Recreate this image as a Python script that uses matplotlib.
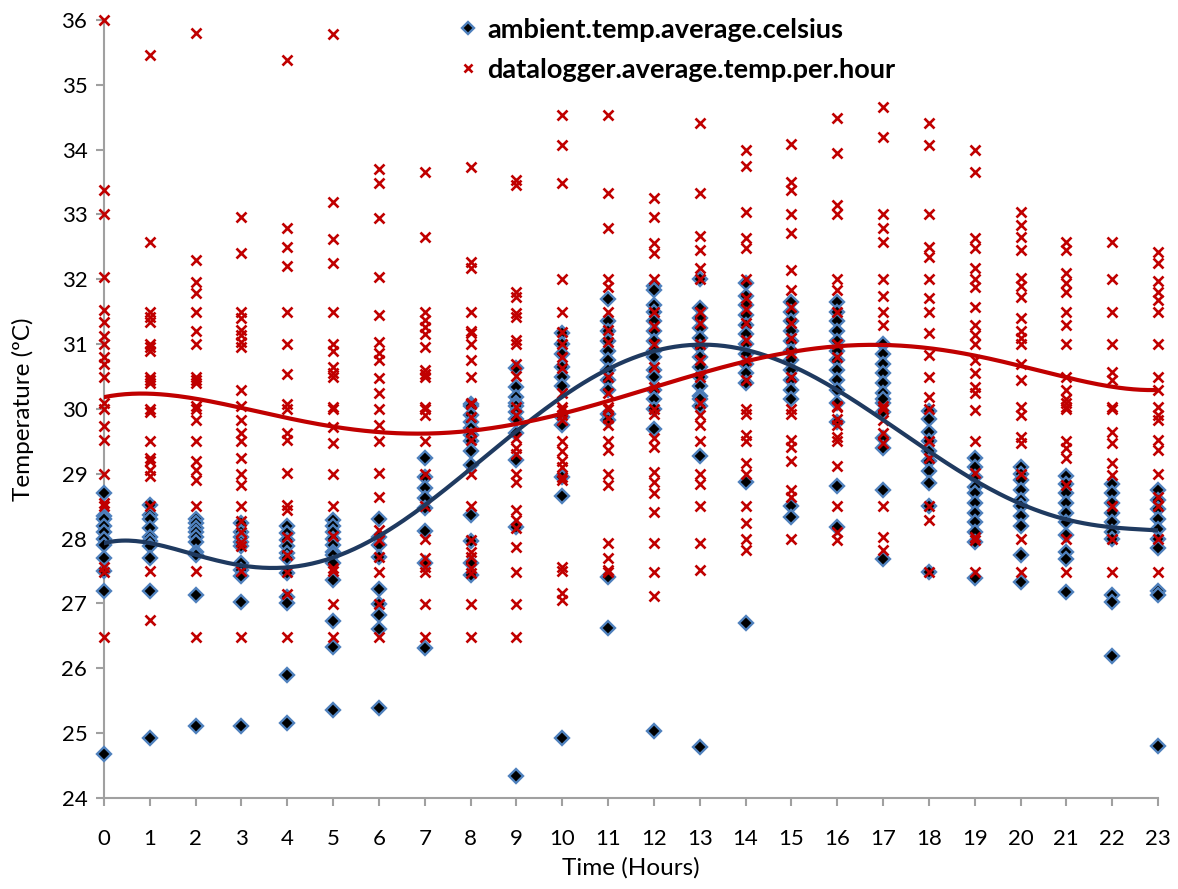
import numpy as np
import matplotlib.pyplot as plt

hours = list(range(24))

# ambient temperature readings, one list per hour of day
ambient = [
    [28.7, 28.35, 28.3, 28.2, 28.1, 28.0, 27.9, 27.7, 27.5, 27.2, 24.68],
    [28.52, 28.37, 28.3, 28.17, 28.03, 27.96, 27.88, 27.7, 27.2, 24.92],
    [28.3, 28.24, 28.17, 28.1, 28.02, 27.95, 27.8, 27.75, 27.13, 25.11],
    [28.24, 28.1, 28.03, 27.95, 27.88, 27.63, 27.52, 27.42, 27.02, 25.11],
    [28.2, 28.09, 27.98, 27.88, 27.78, 27.7, 27.47, 27.1, 27.0, 25.9, 25.15],
    [28.28, 28.2, 28.1, 28.0, 27.9, 27.8, 27.75, 27.62, 27.36, 26.73, 26.33, 25.35],
    [28.31, 28.03, 27.9, 27.72, 27.22, 26.99, 26.82, 26.6, 25.39],
    [29.25, 28.95, 28.78, 28.62, 28.47, 28.12, 27.63, 26.31],
    [30.07, 30.04, 29.9, 29.8, 29.7, 29.6, 29.5, 29.35, 29.13, 28.36, 27.96, 27.63, 27.44],
    [30.63, 30.34, 30.18, 30.09, 30.05, 29.95, 29.85, 29.63, 29.21, 28.18, 24.34],
    [31.17, 31.0, 30.85, 30.65, 30.5, 30.35, 29.88, 29.75, 28.95, 28.66, 24.92],
    [31.7, 31.35, 31.2, 31.05, 30.9, 30.75, 30.6, 30.45, 30.3, 29.93, 29.83, 27.41, 26.62],
    [31.9, 31.83, 31.6, 31.5, 31.35, 31.2, 31.05, 30.9, 30.8, 30.6, 30.5, 30.3, 30.15,
     30.0, 29.69, 25.04],
    [32.0, 31.55, 31.4, 31.25, 31.1, 30.95, 30.8, 30.65, 30.5, 30.35, 30.2, 30.05,
     30.15, 29.27, 24.79],
    [31.94, 31.75, 31.6, 31.45, 31.3, 31.15, 31.0, 30.85, 30.7, 30.55, 30.4, 28.88, 26.7],
    [31.65, 31.5, 31.35, 31.2, 31.05, 30.9, 30.75, 30.6, 30.45, 30.3, 30.15, 28.5, 28.34],
    [31.65, 31.5, 31.35, 31.2, 31.05, 30.9, 30.75, 30.6, 30.45, 30.3, 30.1, 29.8,
     28.81, 28.18],
    [31.0, 30.85, 30.7, 30.55, 30.4, 30.25, 30.1, 30.15, 29.95, 29.55, 29.4, 28.75, 27.68],
    [29.97, 29.85, 29.65, 29.5, 29.35, 29.2, 29.05, 28.86, 28.5, 27.48],
    [29.25, 29.1, 28.95, 28.8, 28.7, 28.55, 28.4, 28.25, 28.1, 27.95, 27.4],
    [29.1, 29.0, 28.9, 28.75, 28.6, 28.5, 28.35, 28.2, 27.75, 27.33],
    [28.97, 28.85, 28.7, 28.55, 28.4, 28.25, 28.05, 27.8, 27.68, 27.18],
    [28.85, 28.7, 28.55, 28.4, 28.25, 28.1, 28.0, 27.13, 27.03, 26.19],
    [28.75, 28.6, 28.45, 28.3, 28.15, 28.0, 27.85, 27.2, 27.13, 24.8],
]

# datalogger hourly averages, one list per hour of day
logger = [
    [36.0, 33.38, 33.0, 32.04, 31.53, 31.34, 31.12, 31.0, 30.8, 30.7, 30.5, 30.1,
     30.0, 29.74, 29.52, 29.0, 28.55, 28.5, 27.56, 27.48, 26.48],
    [35.46, 32.58, 31.5, 31.42, 31.34, 31.0, 30.95, 30.9, 30.5, 30.45, 30.4, 30.0,
     29.95, 29.5, 29.25, 29.2, 29.06, 28.96, 28.5, 27.5, 26.75],
    [35.8, 32.3, 31.96, 31.79, 31.5, 31.2, 31.0, 30.5, 30.45, 30.4, 30.05, 30.0,
     29.83, 29.5, 29.2, 29.06, 28.9, 28.5, 27.5, 26.48],
    [32.96, 32.4, 31.5, 31.4, 31.22, 31.14, 31.03, 30.95, 30.29, 30.04, 29.83, 29.63,
     29.5, 29.25, 29.0, 28.83, 28.5, 28.27, 28.1, 27.95, 27.88, 27.5, 26.48],
    [35.38, 32.79, 32.5, 32.2, 31.5, 31.0, 30.54, 30.07, 30.0, 29.63, 29.52, 29.01,
     28.52, 28.44, 28.02, 27.75, 27.48, 27.15, 26.48],
    [35.78, 33.2, 32.62, 32.25, 31.5, 31.0, 30.9, 30.65, 30.55, 30.5, 30.03, 30.0,
     29.72, 29.47, 29.0, 28.5, 28.04, 27.55, 27.5, 26.99, 26.48],
    [33.7, 33.49, 32.95, 32.03, 31.45, 31.03, 30.86, 30.76, 30.48, 30.25, 30.0, 29.75,
     29.5, 29.01, 28.65, 28.13, 27.98, 27.72, 27.48, 26.99, 26.48],
    [33.66, 32.65, 31.5, 31.37, 31.27, 31.16, 30.95, 30.6, 30.54, 30.5, 30.03, 30.0,
     29.9, 29.5, 29.0, 28.5, 28.0, 27.7, 27.57, 27.48, 26.99, 26.48],
    [33.73, 32.27, 32.17, 31.5, 31.21, 31.17, 31.0, 30.75, 30.5, 30.09, 30.08, 29.87,
     29.64, 29.52, 29.0, 28.5, 27.98, 27.8, 27.72, 27.55, 27.47, 26.99, 26.48],
    [33.53, 33.46, 31.81, 31.73, 31.48, 31.42, 31.06, 31.0, 30.7, 30.51, 30.03, 29.9,
     29.55, 29.4, 29.3, 29.0, 28.87, 28.44, 28.28, 28.17, 27.87, 27.48, 26.99, 26.48],
    [34.53, 34.07, 33.49, 32.0, 31.5, 31.19, 31.0, 30.8, 30.63, 30.25, 30.03, 29.98,
     29.9, 29.83, 29.5, 29.35, 29.2, 29.1, 28.95, 28.9, 27.57, 27.5, 27.16, 27.05],
    [34.53, 33.33, 32.79, 32.0, 31.88, 31.5, 31.22, 31.03, 30.5, 30.25, 30.03, 30.0,
     29.86, 29.75, 29.5, 29.37, 29.0, 28.83, 27.93, 27.7, 27.51, 27.48],
    [33.25, 32.96, 32.56, 32.4, 32.0, 31.5, 31.28, 31.0, 30.65, 30.34, 30.0, 29.93,
     29.55, 29.42, 29.03, 28.87, 28.7, 28.41, 27.93, 27.48, 27.11],
    [34.41, 33.33, 32.67, 32.45, 32.17, 32.0, 31.5, 31.32, 31.0, 30.75, 30.5, 30.1,
     29.9, 29.75, 29.5, 29.0, 28.85, 28.5, 27.93, 27.52],
    [34.0, 33.75, 33.04, 32.63, 32.48, 32.0, 31.71, 31.54, 31.32, 31.06, 30.75, 30.45,
     30.0, 29.93, 29.6, 29.5, 29.17, 29.0, 28.5, 28.24, 28.0, 27.83],
    [34.08, 33.5, 33.38, 33.0, 32.71, 32.14, 31.83, 31.57, 31.32, 31.09, 30.87, 30.5,
     30.0, 29.93, 29.52, 29.42, 29.2, 28.75, 28.64, 28.0],
    [34.49, 33.95, 33.15, 33.0, 32.0, 31.83, 31.5, 31.0, 30.8, 30.04, 30.03, 29.85,
     29.75, 29.57, 29.5, 29.12, 28.5, 28.1, 27.98],
    [34.66, 34.2, 33.0, 32.79, 32.58, 32.0, 31.75, 31.5, 31.3, 30.04, 30.0, 29.83,
     29.63, 29.47, 28.5, 28.03, 27.83],
    [34.41, 34.07, 33.0, 32.5, 32.35, 32.0, 31.71, 31.5, 31.17, 30.83, 30.5, 30.18,
     30.0, 29.5, 29.25, 28.5, 28.29, 27.48],
    [34.0, 33.66, 32.63, 32.48, 32.17, 32.0, 31.88, 31.57, 31.3, 31.14, 31.0, 30.75,
     30.55, 30.34, 30.25, 29.98, 29.5, 29.01, 28.03, 27.98, 27.48],
    [33.04, 32.84, 32.65, 32.45, 32.02, 31.9, 31.72, 31.4, 31.2, 31.1, 31.0, 30.7,
     30.45, 30.03, 29.9, 29.57, 29.47, 29.0, 28.0, 27.48],
    [32.58, 32.45, 32.1, 31.95, 31.8, 31.5, 31.3, 31.0, 30.5, 30.3, 30.15, 30.03,
     30.1, 30.0, 29.5, 29.4, 29.25, 28.83, 28.0, 27.48],
    [32.58, 32.0, 31.5, 31.0, 30.57, 30.45, 30.03, 30.0, 29.65, 29.47, 29.17, 28.98,
     28.5, 28.0, 27.48],
    [32.42, 32.25, 31.98, 31.8, 31.68, 31.5, 31.0, 30.5, 30.3, 30.03, 29.9, 29.83,
     29.52, 29.37, 29.0, 28.65, 28.5, 28.0, 27.48],
]

# polynomial trend levels at each hour
ambient_trend = [27.93, 27.92, 27.76, 27.6, 27.56, 27.72, 28.0, 28.49, 29.1, 29.65,
                 30.2, 30.68, 30.88, 31.0, 30.86, 30.6, 30.33, 29.86, 29.37, 28.9,
                 28.54, 28.28, 28.16, 28.14]
logger_trend = [30.19, 30.23, 30.14, 30.02, 29.88, 29.73, 29.64, 29.63, 29.67, 29.75,
                29.91, 30.11, 30.34, 30.57, 30.76, 30.88, 30.95, 30.98, 30.94, 30.8,
                30.68, 30.5, 30.34, 30.29]

plt.rcParams['font.family'] = ['Lato', 'DejaVu Sans']

fig = plt.figure(figsize=(11.78, 8.89), dpi=100)
ax = fig.add_axes([0.0883, 0.1024, 0.8947, 0.8751])

amb_x = [h for h, vals in zip(hours, ambient) for _ in vals]
amb_y = [v for vals in ambient for v in vals]
log_x = [h for h, vals in zip(hours, logger) for _ in vals]
log_y = [v for vals in logger for v in vals]

ax.plot(amb_x, amb_y, 'D', ms=7.5, mfc='black', mec='#4F81BD', mew=1.7,
        ls='none', label='ambient.temp.average.celsius', zorder=3, clip_on=False)
ax.plot(log_x, log_y, 'x', ms=7.5, color='#C00000', mew=1.9,
        ls='none', label='datalogger.average.temp.per.hour', zorder=4, clip_on=False)

# smooth 6th order trend curves through the hourly trend levels
xs = np.linspace(0, 23, 300)
amb_fit = np.polyval(np.polyfit(hours, ambient_trend, 6), xs)
log_fit = np.polyval(np.polyfit(hours, logger_trend, 6), xs)
ax.plot(xs, amb_fit, color='#1F3A60', lw=3, zorder=5)
ax.plot(xs, log_fit, color='#C00000', lw=3, zorder=5)

ax.set_xlim(0, 23)
ax.set_ylim(24, 36)
ax.set_xticks(hours)
ax.set_yticks(range(24, 37))
ax.tick_params(axis='both', labelsize=16, direction='out', length=6,
               width=1.5, color='#a0a0a0', pad=6)
ax.tick_params(axis='x', pad=16)
for side in ['top', 'right']:
    ax.spines[side].set_visible(False)
for side in ['left', 'bottom']:
    ax.spines[side].set_color('#a0a0a0')
    ax.spines[side].set_linewidth(1.5)

ax.set_xlabel('Time (Hours)', fontsize=17.5, labelpad=6)
ax.set_ylabel('Temperature (ºC)', fontsize=17.5, labelpad=20)

leg = ax.legend(loc='upper left', bbox_to_anchor=(0.32, 1.017), frameon=False,
                borderaxespad=0, prop={'size': 19.5, 'weight': 'bold'},
                handletextpad=0.1, handlelength=1.2, labelspacing=0.6,
                markerscale=0.85)

fig.savefig('out.png', dpi=100)
